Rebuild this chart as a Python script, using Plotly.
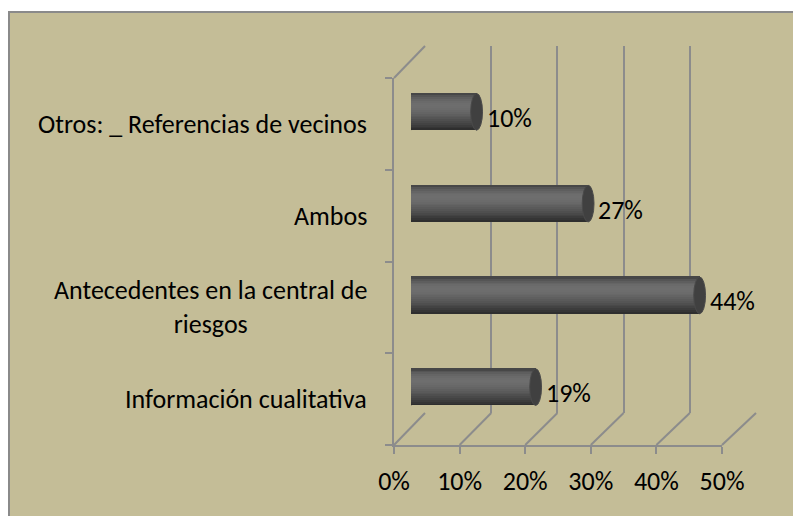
import plotly.graph_objects as go

# ---------------- data ----------------
categories = [
    "Información cualitativa",
    "Antecedentes en la central de riesgos",
    "Ambos",
    "Otros: _ Referencias de vecinos",
]
category_labels = [
    "Información cualitativa",
    "Antecedentes en la central de<br>riesgos",
    "Ambos",
    "Otros: _ Referencias de vecinos",
]
values = [19, 44, 27, 10]
tick_values = [0, 10, 20, 30, 40, 50]
tick_labels = ["0%", "10%", "20%", "30%", "40%", "50%"]

# ---------------- style / geometry ----------------
PAGE_OFFSET = 8  # body margin of the page
W, H = 801 - PAGE_OFFSET, 516 - PAGE_OFFSET
BG = "#C4BD97"
GRID = "#8C8C8C"
FONT = dict(family="Carlito, Calibri, Lato, sans-serif", size=26, color="#000000")


def px_x(p):
    return (p - PAGE_OFFSET) / W


def px_y(p):
    return 1 - (p - PAGE_OFFSET) / H


front_x = [px_x(394), px_x(722)]
front_y = [px_y(445), px_y(78)]
back_x = [px_x(425), px_x(756)]
back_y = [px_y(413), px_y(46)]
bar_x = [px_x(411), px_x(739)]
bar_y = [px_y(433), px_y(66)]

BAR_W = 0.4
CAP_RX = 0.9
# cylinder shading, bottom edge -> top edge
stripe_colors = ["#2e2e2e", "#353535", "#3c3c3c", "#434343", "#494949", "#4f4f4f",
                 "#555555", "#5a5a5a", "#5f5f5f", "#646464", "#686868", "#6b6b6b",
                 "#6d6d6d", "#6e6e6e", "#6d6d6d", "#6a6a6a", "#656565", "#5e5e5e",
                 "#555555", "#474747"]

fig = go.Figure()

# invisible traces to instantiate front and back subplots
fig.add_trace(go.Scatter(x=[None], y=[categories[0]], xaxis="x", yaxis="y",
                         showlegend=False, hoverinfo="skip"))
fig.add_trace(go.Scatter(x=[None], y=[None], xaxis="x2", yaxis="y2",
                         showlegend=False, hoverinfo="skip"))

# cylinder bodies as horizontal stripes
n = len(stripe_colors)
sw = BAR_W / n
for i, c in enumerate(stripe_colors):
    fig.add_trace(go.Bar(
        x=values, y=categories, orientation="h",
        xaxis="x3", yaxis="y3",
        width=sw * 1.3, offset=-BAR_W / 2 + i * sw,
        marker=dict(color=c, line=dict(width=0)),
        showlegend=False, hoverinfo="skip",
    ))

shapes = []
# chart area background with border
shapes.append(dict(type="rect", xref="paper", yref="paper",
                   x0=px_x(9), x1=px_x(801 + 40), y0=px_y(516 + 40), y1=px_y(12),
                   fillcolor=BG, line=dict(color="#8A8A8A", width=2), layer="below"))
# floor diagonals
for v in tick_values:
    fx = front_x[0] + v / 50 * (front_x[1] - front_x[0])
    bx = back_x[0] + v / 50 * (back_x[1] - back_x[0])
    shapes.append(dict(type="line", xref="paper", yref="paper",
                       x0=fx, y0=front_y[0], x1=bx, y1=back_y[0],
                       line=dict(color=GRID, width=2), layer="below"))
# top-left wall diagonal
shapes.append(dict(type="line", xref="paper", yref="paper",
                   x0=front_x[0], y0=front_y[1], x1=back_x[0], y1=back_y[1],
                   line=dict(color=GRID, width=2), layer="below"))

# cylinder ends
for idx, (cat, v) in enumerate(zip(categories, values)):
    shapes.append(dict(type="circle", xref="x3", yref="y3",
                       x0=-CAP_RX, x1=CAP_RX, y0=idx - BAR_W / 2, y1=idx + BAR_W / 2,
                       fillcolor="#565656", line=dict(width=0), layer="below"))
    shapes.append(dict(type="circle", xref="x3", yref="y3",
                       x0=v - CAP_RX, x1=v + CAP_RX, y0=idx - BAR_W / 2, y1=idx + BAR_W / 2,
                       fillcolor="#404040", line=dict(color="#4a4a4a", width=1), layer="above"))

annotations = []
for cat, lab in zip(categories, category_labels):
    annotations.append(dict(xref="paper", yref="y", x=px_x(369), y=cat,
                            text=lab, showarrow=False, xanchor="right",
                            align="center", font=FONT))
for cat, v in zip(categories, values):
    annotations.append(dict(xref="x3", yref="y3", x=v, y=cat, text=f"{v}%",
                            showarrow=False, xanchor="left", xshift=8, yshift=-6,
                            font=FONT))

fig.update_layout(
    width=W, height=H, autosize=False,
    margin=dict(l=0, r=0, t=0, b=0, pad=0, autoexpand=False),
    paper_bgcolor="#FFFFFF", plot_bgcolor="rgba(0,0,0,0)",
    barmode="overlay", bargap=0,
    showlegend=False,
    shapes=shapes, annotations=annotations,
    font=FONT,
    xaxis=dict(domain=front_x, range=[0, 50], anchor="y", showgrid=False,
               zeroline=False, showline=True, linecolor=GRID, linewidth=2,
               ticks="outside", ticklen=7, tickwidth=2, tickcolor=GRID,
               tickvals=tick_values, ticktext=tick_labels, tickfont=FONT,
               ticklabelstandoff=5, automargin=False, fixedrange=True),
    yaxis=dict(domain=front_y, type="category", categoryorder="array",
               categoryarray=categories, range=[-0.5, 3.5], anchor="x",
               showgrid=False, zeroline=False, showline=True, linecolor=GRID,
               linewidth=2, ticks="outside", ticklen=7, tickwidth=2,
               tickcolor=GRID, tickson="boundaries", showticklabels=False,
               automargin=False, fixedrange=True),
    xaxis2=dict(domain=back_x, range=[-0.05, 50.05], anchor="y2", showgrid=True,
                gridcolor=GRID, gridwidth=2, tickvals=tick_values,
                showticklabels=False, zeroline=False, showline=False,
                ticks="", automargin=False, fixedrange=True),
    yaxis2=dict(domain=back_y, range=[0, 1], anchor="x2", showgrid=False,
                zeroline=False, showline=False, showticklabels=False,
                ticks="", automargin=False, fixedrange=True),
    xaxis3=dict(domain=bar_x, range=[0, 50], anchor="y3", visible=False,
                automargin=False, fixedrange=True),
    yaxis3=dict(domain=bar_y, type="category", categoryorder="array",
                categoryarray=categories, range=[-0.5, 3.5], anchor="x3",
                visible=False, automargin=False, fixedrange=True),
)

fig.write_html("out.html", config={"responsive": False})
